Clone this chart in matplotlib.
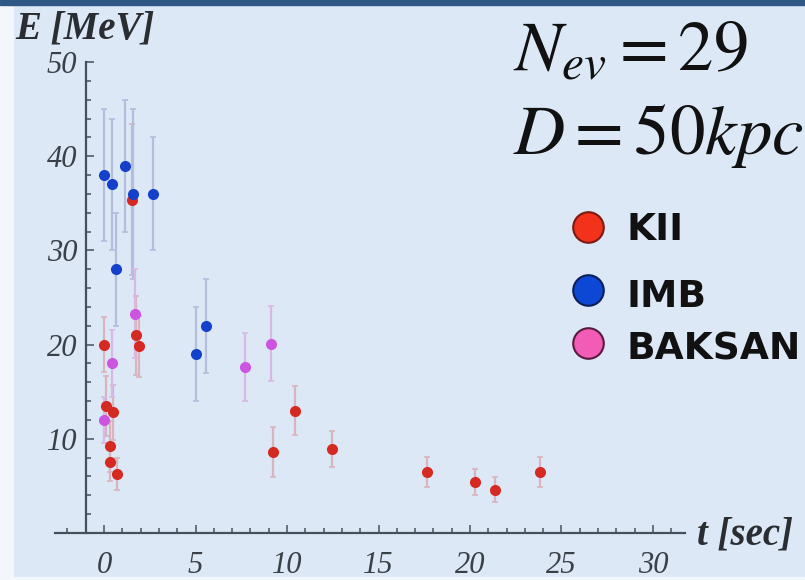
import matplotlib.pyplot as plt
from matplotlib.patches import Rectangle
from matplotlib.lines import Line2D
from matplotlib.ticker import MultipleLocator

# datos de los eventos (t en s, E en MeV, error en MeV)
kii_t = [0.0, 0.107, 0.303, 0.324, 0.507, 0.686, 1.541, 1.728, 1.915,
         9.219, 10.433, 12.439, 17.641, 20.257, 21.355, 23.814]
kii_e = [20.0, 13.5, 7.5, 9.2, 12.8, 6.3, 35.4, 21.0, 19.8,
         8.6, 13.0, 8.9, 6.5, 5.4, 4.6, 6.5]
kii_err = [2.9, 3.2, 2.0, 2.7, 2.9, 1.7, 8.0, 4.2, 3.2,
           2.7, 2.6, 1.9, 1.6, 1.4, 1.3, 1.6]

imb_t = [0.0, 0.412, 0.650, 1.141, 1.562, 2.684, 5.010, 5.582]
imb_e = [38, 37, 28, 39, 36, 36, 19, 22]
imb_err = [7, 7, 6, 7, 9, 6, 5, 5]

bak_t = [0.0, 0.435, 1.710, 7.687, 9.099]
bak_e = [12.0, 18.0, 23.3, 17.6, 20.1]
bak_err = [2.4, 3.6, 4.7, 3.6, 4.0]

x_ticks = [0, 5, 10, 15, 20, 25, 30]
y_ticks = [10, 20, 30, 40, 50]

bg = '#dce8f6'
axis_col = '#45505a'

plt.rcParams['mathtext.fontset'] = 'stix'

fig = plt.figure(figsize=(8.05, 5.8), dpi=100)
fig.patch.set_facecolor(bg)

# franjas del marco de la diapositiva
fig.add_artist(Rectangle((0, 0), 13 / 805, 1, transform=fig.transFigure,
                         color='#f3f7fb', zorder=0))
fig.add_artist(Rectangle((0, 0), 1, 3 / 580, transform=fig.transFigure,
                         color='#f3f7fb', zorder=0))
fig.add_artist(Rectangle((0, 1 - 5 / 580), 1, 5 / 580, transform=fig.transFigure,
                         color='#2f5786', zorder=1))

ax = fig.add_axes([55 / 805, 47 / 580, 630 / 805, 471 / 580])
ax.set_facecolor('none')

ax.errorbar(kii_t, kii_e, yerr=kii_err, fmt='o', color='#d42a22', ms=8,
            mec='none', ecolor='#d9b4bc', elinewidth=1.6, capsize=2.5, capthick=1.2)
ax.errorbar(imb_t, imb_e, yerr=imb_err, fmt='o', color='#1440cc', ms=8,
            mec='none', ecolor='#b2bedc', elinewidth=1.6, capsize=2.5, capthick=1.2)
ax.errorbar(bak_t, bak_e, yerr=bak_err, fmt='o', color='#cc55e0', ms=8,
            mec='none', ecolor='#d8b8e4', elinewidth=1.6, capsize=2.5, capthick=1.2)

ax.set_xlim(-2.68, 31.75)
ax.set_ylim(0, 50)
ax.spines['top'].set_visible(False)
ax.spines['right'].set_visible(False)
ax.spines['left'].set_position(('data', -1))
for s in ['left', 'bottom']:
    ax.spines[s].set_color(axis_col)
    ax.spines[s].set_linewidth(1.6)

ax.set_xticks(x_ticks)
ax.set_yticks(y_ticks)
ax.xaxis.set_minor_locator(MultipleLocator(1))
ax.yaxis.set_minor_locator(MultipleLocator(2))
ax.tick_params(which='both', direction='in', color=axis_col, width=1.1)
ax.tick_params(which='major', length=6)
ax.tick_params(which='minor', length=3.5)
ax.tick_params(axis='x', pad=13)
ax.tick_params(axis='y', pad=6)
for lab in ax.get_xticklabels() + ax.get_yticklabels():
    lab.set_family('Liberation Serif')
    lab.set_style('italic')
    lab.set_fontsize(22)
    lab.set_color('#3a4048')

# etiquetas de los ejes
fig.text(15 / 805, 1 - 39 / 580, 'E [MeV]', family='Liberation Serif', style='italic',
         weight='bold', fontsize=28, color='#2a2e33', va='baseline')
fig.text(697 / 805, 1 - 545 / 580, 't [sec]', family='Liberation Serif', style='italic',
         weight='bold', fontsize=28, color='#2a2e33', va='baseline')

# anotaciones
fig.text(513 / 805, 1 - 69 / 580, r'$N_{ev} = 29$', fontsize=51, color='#111111',
         va='baseline')
fig.text(513 / 805, 1 - 154 / 580, r'$D = 50kpc$', fontsize=51, color='#111111',
         va='baseline')

# leyenda
ley_nombres = ['KII', 'IMB', 'BAKSAN']
ley_caras = ['#f2321a', '#0c48d4', '#f25cb6']
ley_bordes = ['#7a1a10', '#0a1f5a', '#5a1a40']
ley_y = [227, 290, 343]
ley_base = [240, 307, 360]
for nom, cara, borde, yc, yb in zip(ley_nombres, ley_caras, ley_bordes, ley_y, ley_base):
    fig.add_artist(Line2D([588 / 805], [1 - yc / 580], marker='o', ms=22,
                          mfc=cara, mec=borde, mew=1.5, transform=fig.transFigure))
    fig.text(627 / 805, 1 - yb / 580, nom, family='DejaVu Sans', weight='bold',
             fontsize=27, color='#111111', va='baseline')

fig.savefig('out.png', dpi=100, facecolor=fig.get_facecolor())
